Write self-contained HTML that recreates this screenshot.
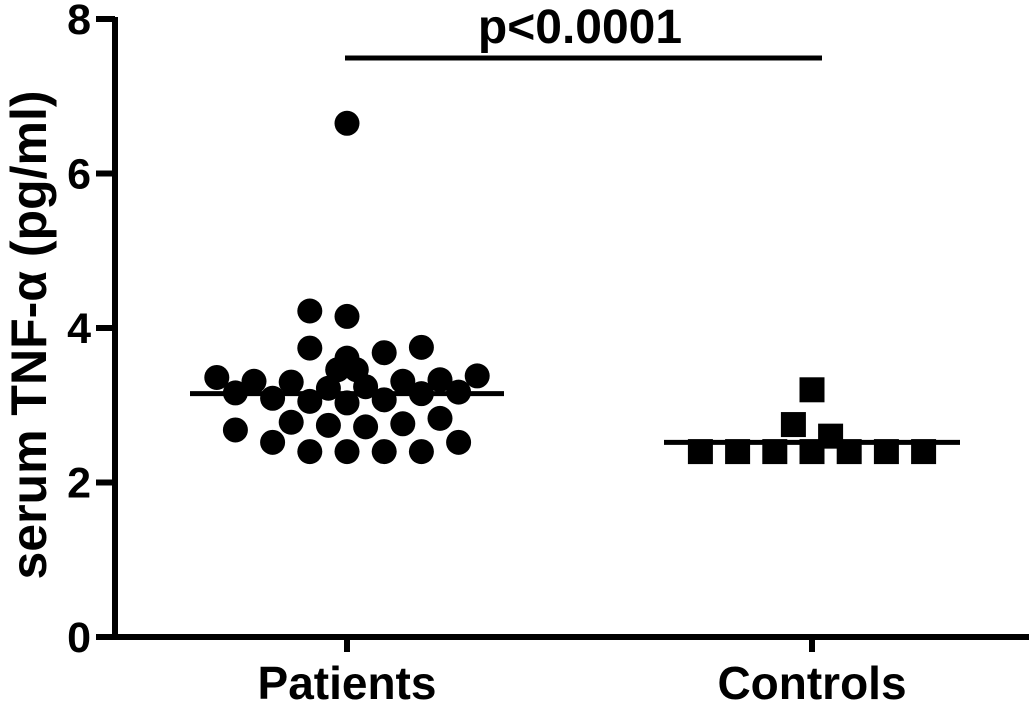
<!DOCTYPE html>
<html><head><meta charset="utf-8"><style>
html,body{margin:0;padding:0;background:#fff;}
svg text{font-family:"Liberation Sans",sans-serif;font-weight:bold;fill:#000;}
</style></head><body>
<svg id="chart" width="1029" height="704" viewBox="0 0 1029 704" xmlns="http://www.w3.org/2000/svg">
<g id="axes"></g>
<g id="marks"></g>
</svg>
<script>
const categories = ["Patients", "Controls"];
const yTicks = [0, 2, 4, 6, 8];
// Patients: values and horizontal jitter (in symbol-width units)
const patientValues = [6.65, 4.22, 4.15, 3.74, 3.61, 3.68, 3.75, 3.36, 3.38, 3.31, 3.30, 3.46, 3.46, 3.31, 3.33, 3.16, 3.09, 3.05, 3.22, 3.24, 3.07, 3.15, 3.17, 3.03, 2.68, 2.78, 2.74, 2.72, 2.76, 2.83, 2.52, 2.52, 2.40, 2.40, 2.40, 2.40];
const patientJitter = [0, -1, 0, -1, 0, 1, 2, -3.5, 3.5, -2.5, -1.5, -0.25, 0.25, 1.5, 2.5, -3, -2, -1, -0.5, 0.5, 1, 2, 3, 0, -3, -1.5, -0.5, 0.5, 1.5, 2.5, -2, 3, -1, 0, 1, 2];
const controlValues = [3.2, 2.75, 2.6, 2.4, 2.4, 2.4, 2.4, 2.4, 2.4, 2.4];
const controlJitter = [0, -0.5, 0.5, -3, -2, -1, 0, 1, 2, 3];
const medians = [3.15, 2.52];
const pLabel = "p<0.0001";

const svgNS = "http://www.w3.org/2000/svg";
const Y0 = 637, Y8 = 19;
function yScale(v){ return Y0 - (v / 8) * (Y0 - Y8); }
const catX = [347, 812];
function xScale(i){ return catX[i]; }
const STEP = 37.2;

function mk(tag, attrs, parent){
  const e = document.createElementNS(svgNS, tag);
  for (const k in attrs) e.setAttribute(k, attrs[k]);
  parent.appendChild(e);
  return e;
}
const axes = document.getElementById('axes');
const marks = document.getElementById('marks');

let el = mk('line', {x1:115, y1:Y8-2, x2:115, y2:Y0+3, stroke:'#000','stroke-width':6}, axes);


el = mk('line', {x1:112, y1:Y0, x2:1029, y2:Y0, stroke:'#000','stroke-width':6}, axes);


yTicks.forEach(t => {
  const y = yScale(t);
  let tk = mk('line', {x1:96, y1:y, x2:115, y2:y, stroke:'#000','stroke-width':6}, axes);
  
  
  let tx = mk('text', {x:91, y:y+15, 'text-anchor':'end', 'font-size':43}, axes);
  tx.textContent = t;
  
  
});
categories.forEach((c, i) => {
  const x = xScale(i);
  let tk = mk('line', {x1:x, y1:Y0, x2:x, y2:652, stroke:'#000','stroke-width':6}, axes);
  
  
  let tx = mk('text', {x:x, y:699, 'text-anchor':'middle', 'font-size':46}, axes);
  tx.textContent = c;
  
  
});
let yt = mk('text', {x:0, y:0, 'text-anchor':'middle', 'font-size':50, transform:'translate(46,335) rotate(-90)'}, axes);
yt.textContent = "serum TNF-\u03B1 (pg/ml)";



el = mk('line', {x1:xScale(0)-2, y1:58, x2:xScale(1)+10, y2:58, stroke:'#000','stroke-width':5}, axes);


el = mk('text', {x:580, y:43, 'text-anchor':'middle', 'font-size':48}, axes);
el.textContent = pLabel;



patientValues.forEach((v, i) => {
  const c = mk('circle', {cx: xScale(0) + patientJitter[i]*STEP, cy: yScale(v), r: 12.5, fill:'#000'}, marks);
  
  
});
controlValues.forEach((v, i) => {
  const r = mk('rect', {x: xScale(1) + controlJitter[i]*STEP - 12.5, y: yScale(v) - 12.5, width:25, height:25, fill:'#000'}, marks);
  
  
});
const halfW = [157, 148];
medians.forEach((m, i) => {
  const l = mk('line', {x1: xScale(i)-halfW[i], y1: yScale(m), x2: xScale(i)+halfW[i], y2: yScale(m), stroke:'#000','stroke-width':5}, marks);
  
  
});
</script>
</body></html>
